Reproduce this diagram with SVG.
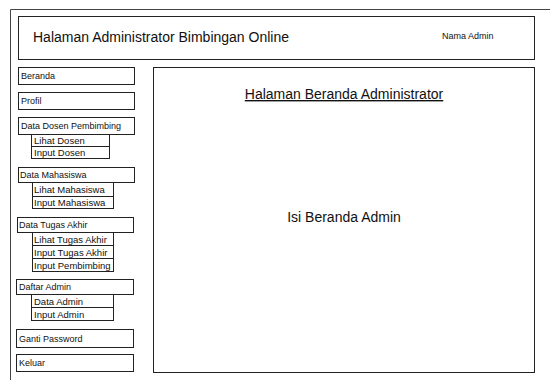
<svg xmlns="http://www.w3.org/2000/svg" width="550" height="380" viewBox="0 0 550 380">
<style>
.b{fill:#fff;stroke:#222;stroke-width:1}
.t{font-family:"Liberation Sans",Arial,sans-serif;font-size:9px;fill:#111}
.s{font-family:"Liberation Sans",Arial,sans-serif;font-size:9.5px;fill:#111}
.h{font-family:"Liberation Sans",Arial,sans-serif;font-size:14px;fill:#111}
</style>
<rect width="550" height="380" fill="#fff"/>
<path d="M10.5,380 V9.5 H550" fill="none" stroke="#444" stroke-width="1"/>
<g id="header"><rect class="b" x="18.5" y="16.5" width="516" height="43"/>
<text class="h" x="33" y="42">Halaman Administrator Bimbingan Online</text>
<text class="t" x="442" y="39">Nama Admin</text></g>
<g id="content"><rect class="b" x="153.5" y="67.5" width="381" height="305"/>
<text class="h" x="344" y="99" text-anchor="middle" text-decoration="underline">Halaman Beranda Administrator</text>
<text class="h" x="344" y="222" text-anchor="middle">Isi Beranda Admin</text></g>
<g id="beranda"><rect class="b" x="18.5" y="67.5" width="116" height="17"/><text class="t" x="21" y="79">Beranda</text></g>
<g id="profil"><rect class="b" x="18.5" y="92.5" width="116" height="17"/><text class="t" x="21" y="104">Profil</text></g>
<g id="dosen"><rect class="b" x="18.5" y="117.5" width="116" height="17"/><text class="t" x="21" y="129">Data Dosen Pembimbing</text></g>
<g id="lihat-dosen"><rect class="b" x="31.5" y="134.5" width="78" height="12"/><text class="s" x="34" y="143.5">Lihat Dosen</text></g>
<g id="input-dosen"><rect class="b" x="31.5" y="146.5" width="78" height="12"/><text class="s" x="34" y="155.5">Input Dosen</text></g>
<g id="mahasiswa"><rect class="b" x="18.5" y="167.5" width="116" height="15"/><text class="t" x="20" y="178">Data Mahasiswa</text></g>
<g id="lihat-mhs"><rect class="b" x="32.5" y="182.5" width="81" height="14"/><text class="s" x="34" y="193">Lihat Mahasiswa</text></g>
<g id="input-mhs"><rect class="b" x="32.5" y="196.5" width="81" height="12"/><text class="s" x="34" y="206">Input Mahasiswa</text></g>
<g id="tugas"><rect class="b" x="17.5" y="217.5" width="116" height="15"/><text class="t" x="19" y="228">Data Tugas Akhir</text></g>
<g id="lihat-ta"><rect class="b" x="32.5" y="232.5" width="81" height="13"/><text class="s" x="34" y="242.5">Lihat Tugas Akhir</text></g>
<g id="input-ta"><rect class="b" x="32.5" y="245.5" width="81" height="13"/><text class="s" x="34" y="255.5">Input Tugas Akhir</text></g>
<g id="input-pemb"><rect class="b" x="32.5" y="258.5" width="81" height="13"/><text class="s" x="34" y="268.5">Input Pembimbing</text></g>
<g id="admin"><rect class="b" x="16.5" y="279.5" width="117" height="15"/><text class="t" x="19" y="290">Daftar Admin</text></g>
<g id="data-admin"><rect class="b" x="31.5" y="294.5" width="82" height="13"/><text class="s" x="34" y="304.5">Data Admin</text></g>
<g id="input-admin"><rect class="b" x="31.5" y="307.5" width="82" height="13"/><text class="s" x="34" y="317.5">Input Admin</text></g>
<g id="password"><rect class="b" x="16.5" y="329.5" width="117" height="18"/><text class="t" x="19" y="341.5">Ganti Password</text></g>
<g id="keluar"><rect class="b" x="16.5" y="354.5" width="117" height="17"/><text class="t" x="19" y="366">Keluar</text></g>
<g id="connectors"/>
</svg>
